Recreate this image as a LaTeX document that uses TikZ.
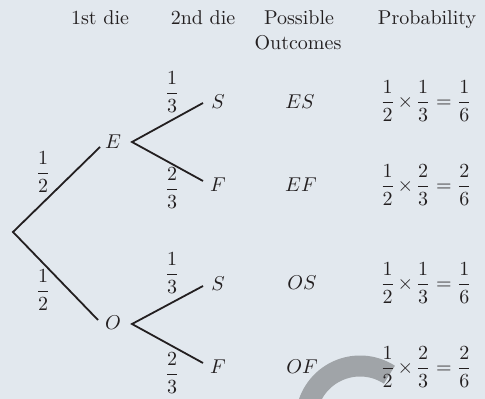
\documentclass[tikz,border=0pt]{standalone}
\usepackage{amsmath}
\definecolor{bgc}{RGB}{226,232,238}
\definecolor{ink}{RGB}{35,31,32}
\definecolor{arcc}{RGB}{160,164,168}
\tikzset{
  lbl/.style={inner sep=0pt, text=ink},
  hdr/.style={inner sep=0pt, text=ink, anchor=base},
  branch/.style={draw=ink, line width=0.9pt},
}
\newcommand{\probrow}[2]{$\nulldelimiterspace=0pt\thickmuskip=7mu\medmuskip=4.5mu\dfrac{1}{2}\times\dfrac{#1}{3}=\dfrac{#2}{6}$}
\begin{document}
\begin{tikzpicture}[x=0.5pt,y=-0.5pt]
\fill[bgc] (0,0) rectangle (485,399);
\useasboundingbox (0,0) rectangle (485,399);
\begin{scope}
\clip (0,0) rectangle (485,399);
\draw[arcc, line width=10.5pt] plot[domain=57:210, samples=60] ({360+54*cos(\x)},{420-54*sin(\x)});
\end{scope}
% headers
\node[hdr] (h1) at (100,25) {1st die};
\node[hdr] (h2) at (203,25) {2nd die};
\node[hdr] (h3a) at (299,25) {Possible};
\node[hdr] (h3b) at (298,50) {Outcomes};
\node[hdr] (h4) at (427,25) {Probability};
% tree points
\coordinate (root) at (13,232);
\coordinate (Ein) at (100,147);
\coordinate (Eout) at (132,142);
\coordinate (Oin) at (98,320);
\coordinate (Oout) at (132,324);
\coordinate (ESend) at (203,103);
\coordinate (EFend) at (203,181);
\coordinate (OSend) at (203,286);
\coordinate (OFend) at (203,363);
\draw[branch] (Ein) -- (root) -- (Oin);
\draw[branch] (ESend) -- (Eout) -- (EFend);
\draw[branch] (OSend) -- (Oout) -- (OFend);
% node labels
\node[lbl] (E) at (113,142) {$E$};
\node[lbl] (O) at (113,323) {$O$};
\node[lbl] (S1) at (218,102) {$S$};
\node[lbl] (F1) at (218,185) {$F$};
\node[lbl] (S2) at (218,284) {$S$};
\node[lbl] (F2) at (218,367) {$F$};
% branch probabilities
\node[lbl] (pE) at (43,172) {$\dfrac{1}{2}$};
\node[lbl] (pO) at (43,290) {$\dfrac{1}{2}$};
\node[lbl] (pES) at (172,92) {$\dfrac{1}{3}$};
\node[lbl] (pEF) at (172,188) {$\dfrac{2}{3}$};
\node[lbl] (pOS) at (172,273) {$\dfrac{1}{3}$};
\node[lbl] (pOF) at (172,373) {$\dfrac{2}{3}$};
% outcomes
\node[lbl] (oES) at (300,102) {$ES$};
\node[lbl] (oEF) at (301,185) {$EF$};
\node[lbl] (oOS) at (302,283) {$OS$};
\node[lbl] (oOF) at (302,367) {$OF$};
% probabilities
\node[lbl] (rES) at (426,101) {\probrow{1}{1}};
\node[lbl] (rEF) at (426,185) {\probrow{2}{2}};
\node[lbl] (rOS) at (426,283) {\probrow{1}{1}};
\node[lbl] (rOF) at (426,367) {\probrow{2}{2}};
\end{tikzpicture}
\end{document}
